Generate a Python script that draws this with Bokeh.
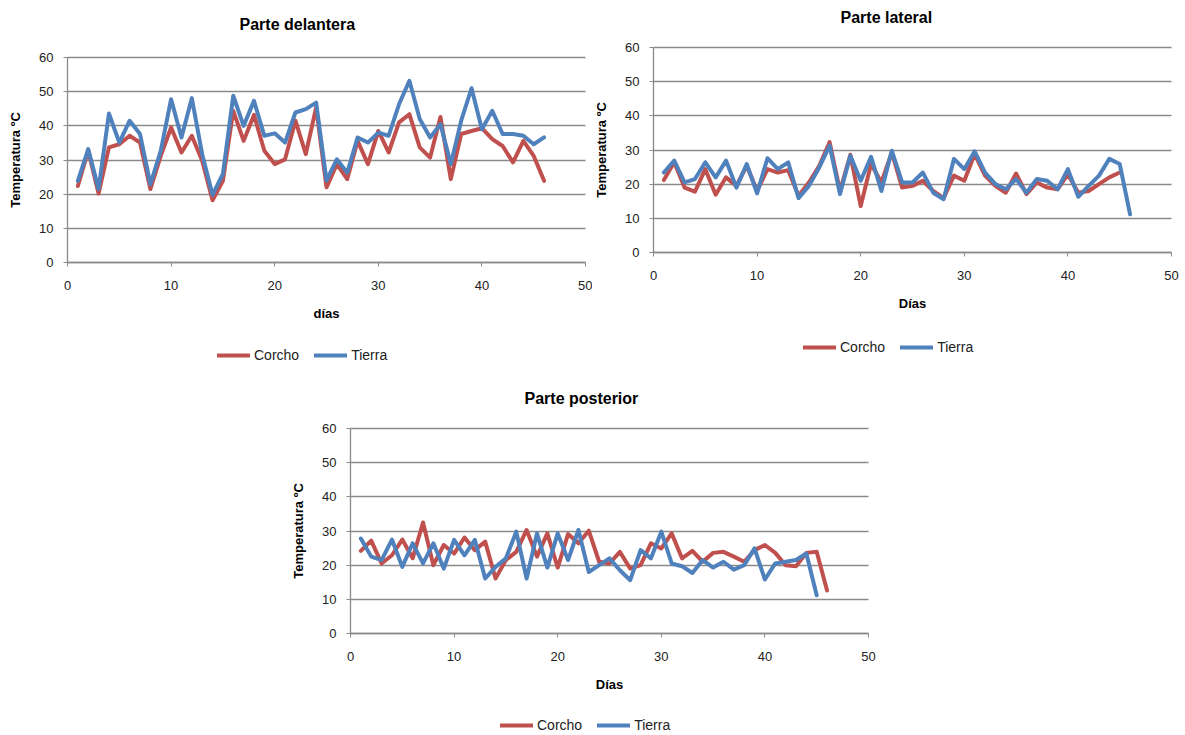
from bokeh.plotting import figure
from bokeh.models import Legend, Spacer, FixedTicker, Grid
from bokeh.layouts import column, row
from bokeh.embed import file_html
from bokeh.resources import INLINE

dias = list(range(1, 47))

delantera_corcho = [22.4, 32.7, 20.2, 33.7, 34.6, 37.1, 35.1, 21.5, 31.2, 39.5,
                    32.2, 37.1, 29.8, 18.2, 23.9, 44.4, 35.6, 43.2, 32.7, 28.8,
                    30.2, 41.5, 31.7, 45.4, 22.0, 28.8, 24.4, 35.6, 28.8, 38.5,
                    32.2, 41.0, 43.4, 33.7, 30.7, 42.6, 24.4, 37.6, 38.5, 39.3,
                    36.1, 34.1, 29.3, 35.6, 31.2, 23.9]
delantera_tierra = [23.9, 33.2, 21.5, 43.6, 35.1, 41.5, 37.6, 22.9, 32.7, 47.8,
                    36.6, 48.1, 31.7, 19.8, 25.9, 48.8, 40.0, 47.3, 37.1, 37.8,
                    35.1, 43.9, 44.9, 46.8, 24.0, 30.2, 26.3, 36.6, 35.1, 38.0,
                    37.1, 46.3, 53.2, 42.0, 36.6, 40.5, 28.8, 41.5, 51.0, 39.0,
                    44.4, 37.6, 37.6, 37.1, 34.6, 36.6]

lateral_corcho = [21.2, 26.4, 19.0, 17.8, 24.4, 16.9, 22.0, 19.5, 25.4, 18.0,
                  24.4, 23.4, 24.1, 16.6, 20.5, 25.4, 32.3, 18.0, 28.6, 13.6,
                  25.9, 20.5, 29.3, 19.0, 19.5, 21.0, 18.0, 15.9, 22.5, 21.0,
                  28.8, 22.5, 19.5, 17.5, 23.1, 17.1, 20.5, 19.0, 18.5, 22.9,
                  17.5, 18.0, 20.0, 22.0, 23.4]
lateral_tierra = [23.4, 26.9, 20.5, 21.5, 26.4, 22.0, 26.9, 19.0, 25.9, 17.3,
                  27.6, 24.4, 26.4, 15.9, 19.5, 24.9, 31.3, 17.1, 28.3, 21.0,
                  28.0, 18.0, 29.8, 20.5, 20.5, 23.4, 17.5, 15.6, 27.4, 24.4,
                  29.6, 23.4, 20.0, 18.5, 21.5, 17.5, 21.5, 21.0, 18.5, 24.4,
                  16.3, 19.5, 22.5, 27.4, 25.9, 11.2]

posterior_corcho = [24.2, 27.2, 20.5, 22.9, 27.5, 22.0, 32.5, 20.0, 25.9, 23.4,
                    28.1, 24.4, 26.9, 16.1, 21.5, 23.9, 30.3, 22.5, 29.3, 19.3,
                    29.1, 26.4, 30.1, 21.0, 20.5, 23.9, 19.0, 20.0, 26.4, 24.9,
                    29.3, 22.0, 24.2, 21.0, 23.6, 23.9, 22.5, 21.0, 24.4, 25.9,
                    23.6, 20.0, 19.7, 23.6, 23.9, 12.6]
posterior_tierra = [27.8, 22.5, 21.5, 27.5, 19.5, 26.4, 20.5, 26.4, 19.0, 27.4,
                    22.9, 27.4, 16.1, 19.5, 22.0, 29.8, 16.1, 29.3, 19.3, 29.3,
                    21.5, 30.3, 18.0, 20.0, 22.0, 18.5, 15.6, 24.4, 22.0, 29.8,
                    20.5, 19.7, 17.7, 21.5, 19.3, 21.0, 18.7, 20.0, 24.9, 15.8,
                    20.5, 21.0, 21.5, 23.4, 11.2]

x_ticks = [0, 10, 20, 30, 40, 50]
y_ticks = [0, 10, 20, 30, 40, 50, 60]
series_names = ["Corcho", "Tierra"]

RED = "#C0504D"
BLUE = "#4F81BD"
GRID = "#8A8A8A"
FONT = "Liberation Sans"

X_MIN, X_MAX = x_ticks[0], x_ticks[-1]
Y_MIN, Y_MAX = y_ticks[0], y_ticks[-1]
BAND_H = 205.0   # pixel height of the 0..60 value band
BAND_W = 518.0   # pixel width of the 0..50 value band

HAS_CROSS = "cross_bounds" in Grid.properties()


def make_chart(title, xlabel, corcho, tierra, width, height, left_px, top_px,
               frame_top, title_standoff, title_offset, legend_x, legend_y):
    # The frame fills the canvas below the title; the 0..50 x 0..60 value band
    # is placed inside it at (left_px, top_px); both axes are pinned at 0.
    sx = BAND_W / (X_MAX - X_MIN)
    sy = BAND_H / (Y_MAX - Y_MIN)
    right_px = width - left_px - BAND_W
    bottom_px = height - top_px - BAND_H
    x_range = (X_MIN - left_px / sx, X_MAX + right_px / sx)
    y_range = (Y_MIN - bottom_px / sy, Y_MAX + (top_px - frame_top) / sy)

    p = figure(width=width, height=height, x_range=x_range, y_range=y_range,
               output_backend="svg", toolbar_location=None, title=title,
               min_border_left=0, min_border_right=0,
               min_border_top=frame_top, min_border_bottom=0)
    p.outline_line_color = None
    p.background_fill_color = "white"
    p.border_fill_color = "white"

    p.title.align = "left"
    p.title.offset = title_offset
    p.title.text_font = FONT
    p.title.text_font_size = "16px"
    p.title.text_font_style = "bold"
    p.title.text_color = "#000000"
    p.title.standoff = title_standoff

    p.xgrid.grid_line_color = None
    if HAS_CROSS:
        p.ygrid.grid_line_color = GRID
        p.ygrid.grid_line_width = 1.3
        p.ygrid.ticker = FixedTicker(ticks=y_ticks)
        p.ygrid.cross_bounds = (X_MIN, X_MAX)
    else:
        p.ygrid.grid_line_color = None
        p.segment(x0=[X_MIN] * len(y_ticks), x1=[X_MAX] * len(y_ticks),
                  y0=y_ticks, y1=y_ticks, line_color=GRID, line_width=1.3)

    r1 = p.line(dias[:len(corcho)], corcho, line_color=RED, line_width=4,
                line_join="round", line_cap="round")
    r2 = p.line(dias[:len(tierra)], tierra, line_color=BLUE, line_width=4,
                line_join="round", line_cap="round")

    for ax in (p.xaxis[0], p.yaxis[0]):
        ax.axis_line_color = GRID
        ax.axis_line_width = 1.3
        ax.major_tick_line_color = GRID
        ax.major_tick_out = 4
        ax.major_tick_in = 0
        ax.minor_tick_line_color = None
        ax.major_label_text_font = FONT
        ax.major_label_text_font_size = "13px"
        ax.major_label_text_color = "#222222"
        ax.major_label_standoff = 10
        ax.axis_label_text_font = FONT
        ax.axis_label_text_font_size = "13px"
        ax.axis_label_text_font_style = "bold"
        ax.axis_label_text_color = "#000000"
        ax.axis_label_standoff = 13
    xa = p.xaxis[0]
    xa.major_label_standoff = 14
    xa.ticker = FixedTicker(ticks=x_ticks)
    xa.fixed_location = Y_MIN
    xa.bounds = (X_MIN, X_MAX)
    xa.axis_label = xlabel
    ya = p.yaxis[0]
    ya.ticker = FixedTicker(ticks=y_ticks)
    ya.fixed_location = X_MIN
    ya.bounds = (Y_MIN, Y_MAX)
    ya.axis_label = "Temperatura ºC"

    legend = Legend(items=[(series_names[0], [r1]), (series_names[1], [r2])],
                    location=(legend_x, legend_y), orientation="horizontal",
                    padding=0, margin=0, spacing=15, label_standoff=4,
                    glyph_width=33, glyph_height=20, label_height=20,
                    label_text_font=FONT, label_text_font_size="14px",
                    label_text_color="#222222",
                    border_line_alpha=0, background_fill_alpha=0)
    p.add_layout(legend)
    return p


p1 = make_chart("Parte delantera", "días", delantera_corcho, delantera_tierra,
                width=592, height=366, left_px=67, top_px=57, frame_top=32,
                title_standoff=0, title_offset=239, legend_x=217, legend_y=1)
p2 = make_chart("Parte lateral", "Días", lateral_corcho, lateral_tierra,
                width=593, height=366, left_px=61, top_px=47, frame_top=32,
                title_standoff=13, title_offset=248, legend_x=211, legend_y=9)
p3 = make_chart("Parte posterior", "Días", posterior_corcho, posterior_tierra,
                width=608, height=369, left_px=78, top_px=62, frame_top=52,
                title_standoff=23, title_offset=252, legend_x=228, legend_y=0)

layout = column(row(p1, p2), row(Spacer(width=272, height=369), p3))

open("out.html", "w").write(file_html(layout, INLINE))
